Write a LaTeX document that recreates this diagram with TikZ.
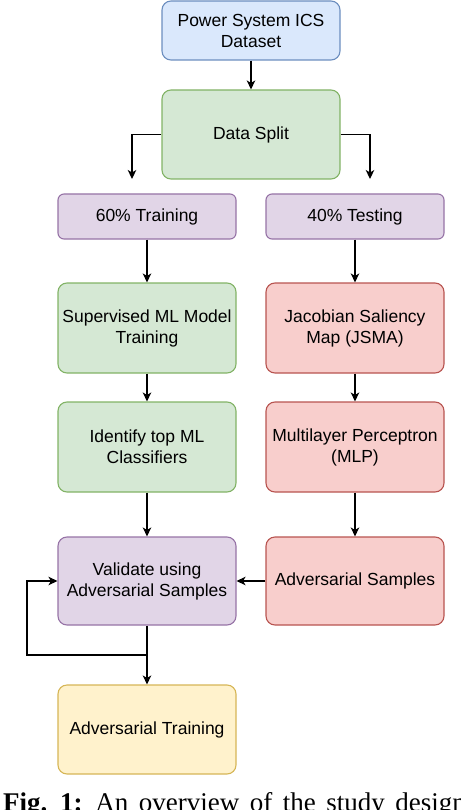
\documentclass[tikz,border=0pt]{standalone}
\usepackage{fontspec}
\setmainfont{Liberation Serif}
\newfontfamily\boxfont{Liberation Sans}
\usetikzlibrary{arrows.meta}
\definecolor{blueF}{HTML}{DAE8FC}\definecolor{blueD}{HTML}{6C8EBF}
\definecolor{greenF}{HTML}{D5E8D4}\definecolor{greenD}{HTML}{82B366}
\definecolor{purpF}{HTML}{E1D5E7}\definecolor{purpD}{HTML}{9673A6}
\definecolor{redF}{HTML}{F8CECC}\definecolor{redD}{HTML}{B85450}
\definecolor{yelF}{HTML}{FFF2CC}\definecolor{yelD}{HTML}{D6B656}
\begin{document}
\begin{tikzpicture}[x=1pt,y=-1pt,
  box/.style={draw, rounded corners=9pt, minimum width=178pt, minimum height=89pt,
    inner sep=0pt, align=center, line width=1.1pt,
    font=\boxfont\fontsize{17.5}{21}\selectfont},
  smallbox/.style={box, rounded corners=6pt, minimum height=45pt},
  blue/.style={fill=blueF, draw=blueD},
  green/.style={fill=greenF, draw=greenD},
  purp/.style={fill=purpF, draw=purpD},
  red/.style={fill=redF, draw=redD},
  yel/.style={fill=yelF, draw=yelD},
  arr/.style={-{Stealth[length=9pt,width=8.5pt,inset=2.5pt]}, line width=1.2pt}]
\useasboundingbox (0,0) rectangle (460,810);

\node[box, blue, minimum height=59pt] (ds) at (251,30.5) {Power System ICS\\Dataset};
\node[box, green] (split) at (251,134.5) {Data Split};
\node[smallbox, purp] (train) at (147,216.5) {60\% Training};
\node[smallbox, purp] (test) at (355,216.5) {40\% Testing};
\node[box, green, minimum height=90pt] (sup) at (147,328) {Supervised ML Model\\Training};
\node[box, red, minimum height=90pt] (jsma) at (355,328) {Jacobian Saliency\\Map (JSMA)};
\node[box, green, minimum height=90pt] (ident) at (147,447) {Identify top ML\\Classifiers};
\node[box, red, minimum height=90pt] (mlp) at (355,447) {Multilayer Perceptron\\(MLP)};
\node[box, purp, minimum height=88pt] (val) at (147,581) {Validate using\\Adversarial Samples};
\node[box, red, minimum height=88pt] (adv) at (355,581) {Adversarial Samples};
\node[box, yel] (advtr) at (147,729.5) {Adversarial Training};

\coordinate (sl) at (132,179);
\coordinate (sr) at (370,179);
\coordinate (lp) at (147,655);
\coordinate (lc) at (27,655);

\draw[arr] (ds) -- (split);
\draw[arr] (split.west) -| (sl);
\draw[arr] (split.east) -| (sr);
\draw[arr] (train) -- (sup);
\draw[arr] (sup) -- (ident);
\draw[arr] (ident) -- (val);
\draw[arr] (test) -- (jsma);
\draw[arr] (jsma) -- (mlp);
\draw[arr] (mlp) -- (adv);
\draw[arr] (adv) -- (val);
\draw[arr] (val) -- (advtr);
\draw[arr] (lp) -- (lc) |- (val.west);

\node[anchor=base west, inner sep=0pt, font=\fontsize{27}{30}\selectfont] (cap) at (3,811.5)
  {\spaceskip=10.5pt\relax\textbf{Fig. 1:} An overview of the study design};
\end{tikzpicture}
\end{document}
